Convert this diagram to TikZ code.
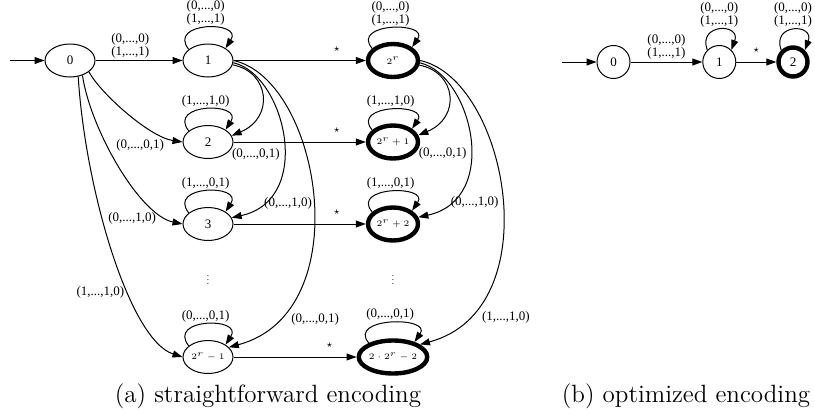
\documentclass[tikz,border=0pt]{standalone}
\usepackage{fontspec}
\usepackage{graphicx}
\usetikzlibrary{arrows.meta,shapes.geometric}

\newfontfamily\lblfont{Liberation Serif}
\newcommand{\lblsize}{\lblfont\fontsize{6.5}{6.5}\selectfont}
\newcommand{\smallmath}[1]{\scalebox{0.85}{\tiny$#1$}}

\tikzset{
  state/.style={ellipse, draw, line width=0.5pt, minimum width=25pt,
    minimum height=16.5pt, inner sep=0pt, font=\lblsize},
  final/.style={state, line width=2.2pt},
  cstate/.style={circle, draw, line width=0.5pt, minimum size=16.5pt,
    inner sep=0pt, font=\lblsize},
  cfinal/.style={cstate, line width=2.2pt, minimum size=14.5pt},
  trans/.style={line width=0.5pt, -{Triangle[length=5pt,width=3.5pt]}},
  lbl/.style={inner sep=1pt, font=\lblsize, align=center},
  caption/.style={anchor=base, font=\fontsize{12.5}{15}\selectfont}
}

\begin{document}
\begin{tikzpicture}[x=0.5pt, y=-0.5pt]
\useasboundingbox (0,0) rectangle (815,418);

% (a) straightforward encoding
\coordinate (in1) at (10,60.5);
\node[state] (q0) at (70,60.5) {0};
\node[state] (q1) at (208,60.5) {1};
\node[state] (q2) at (208,142) {2};
\node[state] (q3) at (208,224) {3};
\node[state] (qm) at (208,357) {\smallmath{2^r-1}};
\node[final] (f0) at (393,60.5) {\smallmath{2^r}};
\node[final] (f1) at (393,142) {\smallmath{2^r+1}};
\node[final] (f2) at (393,224) {\smallmath{2^r+2}};
\node[final] (fm) at (393,357) {\smallmath{2\cdot2^r-2}};
\node (dq) at (208,277) {\scalebox{0.5}{$\vdots$}};
\node (df) at (393,277) {\scalebox{0.5}{$\vdots$}};

\draw[trans] (in1) -- (q0);
\draw[trans] (q0) -- node[lbl, above, pos=0.4] (l01) {(0,...,0)\\(1,...,1)} (q1);
\draw[trans] (q1) -- node[above, pos=0.78, yshift=1pt] (s1) {\tiny$\star$} (f0);
\draw[trans] (q2) -- node[above, pos=0.78, yshift=1pt] (s2) {\tiny$\star$} (f1);
\draw[trans] (q3) -- node[above, pos=0.78, yshift=1pt] (s3) {\tiny$\star$} (f2);
\draw[trans] (qm) -- node[above, pos=0.78, yshift=1pt] (s4) {\tiny$\star$} (fm);

\draw[trans] (q0.-31) .. controls +(12,22) and +(-33,-5) .. (q2.west)
  node[lbl, at end, left=8pt, yshift=-1.5pt] (l02) {(0,...,0,1)};
\draw[trans] (q0.-50) .. controls +(8,54) and +(-43,-9) .. (q3.west)
  node[lbl, at end, left=12pt, yshift=3pt] (l03) {(0,...,1,0)};
\draw[trans] (q0.-63) .. controls +(7,113) and +(-53,-17) .. (qm.west)
  node[lbl, pos=0.63, left=1pt] (l0m) {(1,...,1,0)};

\draw[trans] (q1.-10) .. controls +(37,7) and +(43,-18) .. (q2.15)
  node[lbl, at end, anchor=north west, xshift=-1pt, yshift=-5pt] (l12) {(0,...,0,1)};
\draw[trans] (q1.-5) .. controls +(52,12) and +(83,-18) .. (q3.15)
  node[lbl, pos=0.85, right=0pt] (l13) {(0,...,1,0)};
\draw[trans] (q1.0) .. controls +(87,19) and +(131,-35) .. (qm.25)
  node[lbl, pos=0.85, right=6pt] (l1m) {(0,...,0,1)};

\draw[trans] (f0.-10) .. controls +(37,7) and +(43,-18) .. (f1.15)
  node[lbl, at end, anchor=north west, xshift=-1pt, yshift=-5pt] (lf1) {(0,...,0,1)};
\draw[trans] (f0.-5) .. controls +(52,12) and +(83,-18) .. (f2.15)
  node[lbl, pos=0.85, right=0pt] (lf2) {(0,...,1,0)};
\draw[trans] (f0.0) .. controls +(87,19) and +(131,-35) .. (fm.25)
  node[lbl, pos=0.85, right=6pt] (lfm) {(1,...,1,0)};

% self loops
\draw[trans] (q1.150) .. controls +(-22,-28) and +(18,-28) .. (q1.35)
  node[lbl, midway, above] (lq1) {(0,...,0)\\(1,...,1)};
\draw[trans] (q2.150) .. controls +(-22,-28) and +(18,-28) .. (q2.35)
  node[lbl, midway, above] (lq2) {(1,...,1,0)};
\draw[trans] (q3.150) .. controls +(-22,-28) and +(18,-28) .. (q3.35)
  node[lbl, midway, above] (lq3) {(1,...,0,1)};
\draw[trans] (qm.150) .. controls +(-22,-28) and +(18,-28) .. (qm.35)
  node[lbl, midway, above] (lqm) {(0,...,0,1)};
\draw[trans] (f0.150) .. controls +(-22,-26) and +(18,-26) .. (f0.35)
  node[lbl, midway, above] (lff0) {(0,...,0)\\(1,...,1)};
\draw[trans] (f1.150) .. controls +(-22,-26) and +(18,-26) .. (f1.35)
  node[lbl, midway, above] (lff1) {(1,...,1,0)};
\draw[trans] (f2.150) .. controls +(-22,-26) and +(18,-26) .. (f2.35)
  node[lbl, midway, above] (lff2) {(1,...,0,1)};
\draw[trans] (fm.150) .. controls +(-22,-26) and +(18,-26) .. (fm.35)
  node[lbl, midway, above] (lffm) {(0,...,0,1)};

% (b) optimized encoding
\coordinate (in2) at (562,62);
\node[cstate] (r0) at (613.5,62) {0};
\node[cstate] (r1) at (719.3,62) {1};
\node[cfinal] (r2) at (793,62) {2};
\draw[trans] (in2) -- (r0);
\draw[trans] (r0) -- node[lbl, above] (lr01) {(0,...,0)\\(1,...,1)} (r1);
\draw[trans] (r1) -- node[above, yshift=1pt] (lr12) {\tiny$\star$} (r2);
\draw[trans] (r1.135) .. controls +(-10,-27) and +(10,-27) .. (r1.45)
  node[lbl, midway, above] (lr1) {(0,...,0)\\(1,...,1)};
\draw[trans] (r2.135) .. controls +(-10,-27) and +(10,-27) .. (r2.45)
  node[lbl, midway, above] (lr2) {(0,...,0)\\(1,...,1)};

\node[caption] (capa) at (268,402) {(a) straightforward encoding};
\node[caption] (capb) at (686,402) {(b) optimized encoding};
\end{tikzpicture}
\end{document}
